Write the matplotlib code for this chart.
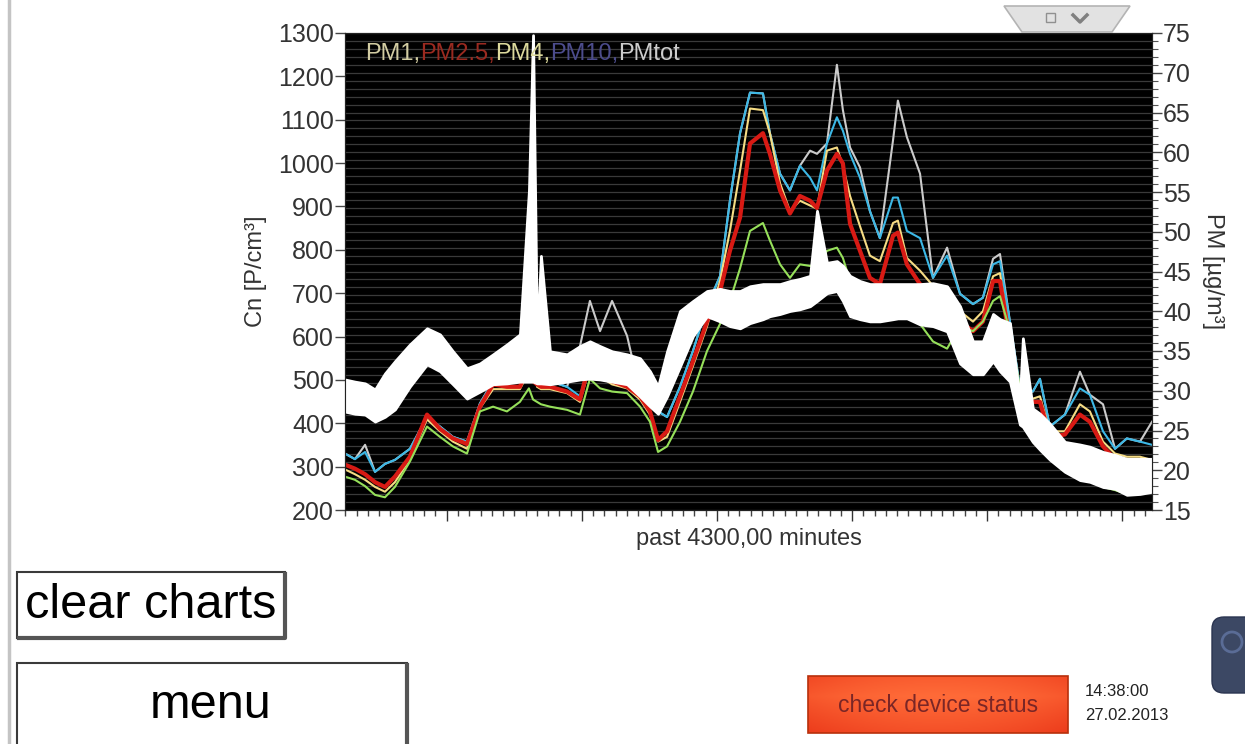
import numpy as np
import matplotlib.pyplot as plt
from matplotlib.patches import Rectangle, Polygon, FancyBboxPatch, Circle

plt.rcParams['font.family'] = ['Liberation Sans', 'DejaVu Sans']

# time axis: minutes since start of the 4300 min window
minutes = [0, 53, 107, 160, 213, 266, 346, 437, 506, 575, 650, 719, 789, 863, 932, 980,
           1002, 1023, 1044, 1092, 1183, 1252, 1305, 1359, 1423, 1503, 1572, 1625, 1668,
           1716, 1785, 1854, 1929, 1998, 2051, 2105, 2158, 2227, 2264, 2318, 2371, 2424,
           2478, 2515, 2568, 2621, 2653, 2691, 2744, 2797, 2850, 2920, 2946, 2994, 3064,
           3133, 3208, 3277, 3346, 3399, 3453, 3490, 3543, 3596, 3612, 3665, 3703, 3756,
           3836, 3916, 3969, 4039, 4103, 4166, 4236, 4300]

# Cn [P/cm3] envelope of the noisy signal (left axis)
cn_max = [501, 496, 492, 478, 515, 543, 582, 619, 605, 566, 527, 538, 559, 582, 605, 936,
          1295, 589, 786, 566, 559, 578, 589, 578, 566, 559, 550, 520, 485, 566, 659, 682,
          705, 710, 705, 705, 716, 721, 721, 721, 728, 733, 740, 890, 770, 774, 763, 740,
          728, 721, 721, 721, 721, 721, 721, 723, 716, 670, 589, 589, 652, 640, 631, 457,
          596, 434, 422, 399, 357, 351, 346, 334, 327, 318, 318, 318]
cn_min = [427, 422, 420, 404, 415, 432, 485, 536, 520, 490, 457, 473, 490, 492, 496, 496,
          496, 492, 492, 490, 496, 501, 503, 501, 496, 490, 462, 439, 422, 462, 531, 601,
          647, 635, 624, 619, 631, 640, 647, 652, 659, 663, 670, 682, 700, 705, 682, 647,
          640, 635, 635, 640, 642, 642, 628, 624, 612, 538, 513, 513, 543, 520, 496, 397,
          392, 357, 339, 316, 288, 269, 265, 253, 249, 235, 237, 242]

# PM [ug/m3] (right axis)
pm1 = [19.2, 18.8, 18.0, 16.9, 16.6, 17.9, 21.1, 25.5, 24.2, 23.0, 22.1, 27.4, 28.0, 27.4,
       28.6, 30.3, 28.9, 28.6, 28.3, 28.0, 27.6, 27.0, 31.5, 30.3, 29.9, 29.7, 28.0, 26.1,
       22.3, 23.0, 26.1, 29.9, 35.0, 38.4, 41.3, 45.4, 50.1, 51.1, 48.9, 45.9, 44.2, 45.9,
       45.7, 45.7, 47.6, 48.0, 46.7, 43.8, 42.5, 41.9, 41.3, 41.3, 41.3, 40.0, 38.4, 36.2,
       35.3, 38.1, 37.5, 38.7, 41.3, 41.9, 37.5, 30.5, 29.3, 23.6, 22.7, 21.4, 19.8, 19.2,
       18.8, 17.9, 17.5, 17.0, 17.3, 17.9]
pm25 = [20.7, 20.2, 19.5, 18.5, 17.9, 19.2, 21.7, 27.0, 25.2, 24.0, 23.3, 28.0, 30.8, 30.5,
        30.5, 33.3, 31.2, 30.8, 30.5, 30.5, 29.9, 28.9, 33.7, 32.2, 31.2, 30.5, 29.3, 27.4,
        23.8, 24.9, 29.3, 33.7, 38.7, 42.5, 47.6, 51.8, 61.1, 62.4, 59.8, 55.2, 52.3, 54.5,
        53.9, 53.0, 57.7, 59.8, 58.6, 51.0, 47.6, 44.2, 43.4, 49.5, 49.9, 45.9, 43.4, 42.5,
        39.6, 38.7, 37.5, 38.7, 43.8, 43.8, 36.2, 29.5, 29.0, 28.6, 28.6, 24.2, 24.5, 27.0,
        26.1, 23.0, 21.4, 21.1, 21.1, 20.7]
pm4 = [20.1, 19.5, 18.8, 17.9, 17.3, 18.5, 21.4, 26.4, 24.9, 23.6, 22.7, 27.8, 30.2, 30.2,
       30.2, 32.4, 73.5, 30.5, 30.2, 30.2, 29.7, 28.6, 33.1, 31.8, 30.8, 30.3, 28.9, 27.0,
       23.6, 24.2, 28.6, 33.1, 38.1, 43.8, 50.1, 57.7, 65.5, 65.3, 62.4, 56.1, 52.6, 53.9,
       53.3, 52.9, 60.2, 60.6, 58.3, 54.5, 50.7, 47.0, 46.3, 51.1, 51.4, 46.7, 45.1, 43.2,
       41.3, 40.0, 38.7, 40.0, 44.4, 44.8, 36.9, 29.9, 29.3, 29.0, 29.3, 24.9, 24.9, 28.3,
       27.4, 23.6, 22.1, 21.7, 21.7, 21.3]
pm10 = [22.1, 21.4, 22.3, 19.8, 20.8, 21.3, 22.7, 26.7, 25.5, 24.2, 23.6, 28.4, 31.2, 30.9,
        31.2, 33.1, 31.2, 31.2, 30.9, 31.2, 30.5, 29.3, 33.7, 32.4, 31.8, 31.2, 29.9, 28.6,
        27.4, 26.7, 30.5, 35.0, 40.6, 44.4, 53.9, 62.4, 67.5, 67.4, 62.4, 57.3, 55.2, 58.3,
        56.8, 55.2, 61.1, 64.4, 62.7, 59.8, 56.8, 52.6, 49.2, 54.3, 54.3, 50.1, 49.2, 44.2,
        47.0, 42.2, 40.9, 41.7, 45.9, 46.3, 38.7, 30.5, 29.9, 29.9, 31.5, 25.5, 27.0, 30.3,
        29.5, 24.9, 22.7, 24.0, 23.6, 23.2]
pmtot = [22.1, 21.4, 23.2, 19.8, 20.8, 21.3, 22.7, 26.7, 25.5, 24.2, 23.6, 28.4, 31.2, 30.9,
         31.2, 33.1, 31.2, 31.2, 30.9, 31.2, 30.5, 35.6, 41.3, 37.5, 41.3, 36.9, 29.9, 28.6,
         27.4, 26.7, 30.5, 35.0, 40.6, 44.4, 53.9, 62.4, 67.5, 67.4, 62.4, 57.3, 55.2, 58.3,
         60.2, 59.8, 61.1, 71.0, 65.3, 60.6, 58.1, 52.6, 49.2, 61.5, 66.5, 61.9, 57.3, 44.2,
         48.0, 42.2, 40.9, 41.7, 46.6, 47.2, 38.7, 30.5, 29.9, 29.9, 31.5, 25.5, 27.0, 32.4,
         29.5, 28.3, 22.7, 24.0, 23.6, 26.1]

legend_parts = [('PM1,', '#d2cca2'), ('PM2.5,', '#9a2a20'), ('PM4,', '#dcd99c'),
                ('PM10,', '#4c4c8c'), ('PMtot', '#cccccc')]

W, H = 1245, 744
fig = plt.figure(figsize=(W / 100, H / 100), dpi=100, facecolor='white')

ax_pm = fig.add_axes([345 / W, 1 - 510 / H, 807 / W, 477 / H])
ax_pm.set_facecolor('black')
ax_cn = ax_pm.twinx()

ax_pm.set_xlim(0, 4300)
ax_pm.set_ylim(15, 75)
ax_cn.set_ylim(200, 1300)

for vals, col, lw in [(pmtot, '#cbcbcb', 1.5), (pm10, '#3cb8e6', 1.5), (pm4, '#f6dc84', 1.5),
                      (pm25, '#d81a14', 3.0), (pm1, '#96e05a', 1.5)]:
    ax_pm.plot(minutes, vals, color=col, lw=lw)

ax_cn.fill_between(minutes, cn_min, cn_max, facecolor='white', edgecolor='white', lw=2)

# axes styling
ax_pm.yaxis.tick_right()
ax_pm.yaxis.set_label_position('right')
ax_pm.set_yticks(np.arange(15, 76, 5))
ax_pm.set_yticks(np.arange(15, 76, 1), minor=True)
ax_pm.grid(axis='y', which='both', color='#3a3a3a', lw=0.9)
ax_pm.set_axisbelow(True)
ax_pm.tick_params(axis='y', which='major', length=7, width=1, color='#444',
                  labelsize=18, labelcolor='#333333', pad=1)
ax_pm.tick_params(axis='y', which='minor', length=4, width=0.8, color='#555')
ax_pm.set_xticks(np.arange(542, 4300, 720))
ax_pm.set_xticks(np.arange(2, 4300, 60), minor=True)
ax_pm.tick_params(axis='x', which='major', length=8, width=1, color='#333', labelbottom=False)
ax_pm.tick_params(axis='x', which='minor', length=4, width=1, color='#444')
ax_pm.set_xlabel('past 4300,00 minutes', fontsize=17, color='#333333', labelpad=5)
ax_pm.set_ylabel('PM [µg/m³]', rotation=270, fontsize=17, color='#333333', labelpad=24)

ax_cn.yaxis.tick_left()
ax_cn.yaxis.set_label_position('left')
ax_cn.set_yticks(np.arange(200, 1301, 100))
ax_cn.tick_params(axis='y', length=7, width=1, color='#444', labelsize=18,
                  labelcolor='#333333', pad=1)
ax_cn.set_ylabel('Cn [P/cm³]', fontsize=17, color='#333333', labelpad=8)

for a in (ax_pm, ax_cn):
    for s in a.spines.values():
        s.set_color('#222222')

# coloured legend text inside the plot
txt = ax_cn.text(0.025, 0.943, legend_parts[0][0], transform=ax_cn.transAxes,
                 color=legend_parts[0][1], fontsize=17, va='baseline')
for s, c in legend_parts[1:]:
    txt = ax_cn.annotate(s, xy=(1, 0), xycoords=txt, va='bottom', ha='left',
                         color=c, fontsize=17)

# surrounding screen elements
ui = fig.add_axes([0, 0, 1, 1], zorder=5)
ui.set_xlim(0, W)
ui.set_ylim(H, 0)
ui.axis('off')
ui.patch.set_visible(False)

ui.plot([9, 9], [0, H], color='#c4c4c4', lw=2.5)

ui.add_patch(Rectangle((17, 572), 268, 66, facecolor='white', edgecolor='#3a3a3a', lw=1.5))
ui.plot([19, 285, 285], [638, 638, 574], color='#555555', lw=3)
ui.text(151, 605, 'clear charts', fontsize=35, ha='center', va='center', color='black')

ui.add_patch(Rectangle((17, 663), 390, 90, facecolor='white', edgecolor='#3a3a3a', lw=1.5))
ui.plot([407, 407], [665, H], color='#555555', lw=3)
ui.text(211, 706, 'menu', fontsize=35, ha='center', va='center', color='black')

gy = np.linspace(0, 1, 40)[:, None]
gx = np.linspace(-1, 1, 200)[None, :]
shade = 1 - 0.55 * np.abs(gy - 0.35) - 0.25 * gx ** 2
rgb = np.dstack([np.clip(0.88 + 0.12 * shade, 0, 1),
                 np.clip(0.12 + 0.30 * shade, 0, 1),
                 np.clip(0.04 + 0.18 * shade, 0, 1)])
ui.imshow(rgb, extent=(808, 1068, 733, 676), aspect='auto', zorder=1)
ui.add_patch(Rectangle((808, 676), 260, 57, facecolor='none', edgecolor='#b8300c', lw=1.2, zorder=2))
ui.text(938, 705, 'check device status', fontsize=16.5, ha='center', va='center',
        color='#7a2626', zorder=3)
ui.text(1085, 692, '14:38:00', fontsize=12, va='center', color='#222222')
ui.text(1085, 716, '27.02.2013', fontsize=12, va='center', color='#222222')

ui.add_patch(Polygon([(1004, 6), (1130, 6), (1112, 32), (1022, 32)], closed=True,
                     facecolor='#e2e2e2', edgecolor='#b4b4b4', lw=1.2))
ui.add_patch(Rectangle((1046, 13), 9, 9, facecolor='none', edgecolor='#909090', lw=1))
ui.plot([1073, 1080, 1087], [15, 22, 15], color='#808080', lw=2.5)

ui.add_patch(FancyBboxPatch((1212, 617), 60, 76, boxstyle='round,pad=0,rounding_size=12',
                            facecolor='#3c4864', edgecolor='#2a3450', lw=1))
ui.add_patch(Circle((1232, 642), 10, facecolor='none', edgecolor='#5a6c96', lw=2))

ui.set_xlim(0, W)
ui.set_ylim(H, 0)

fig.savefig('out.png', dpi=100, facecolor='white')
